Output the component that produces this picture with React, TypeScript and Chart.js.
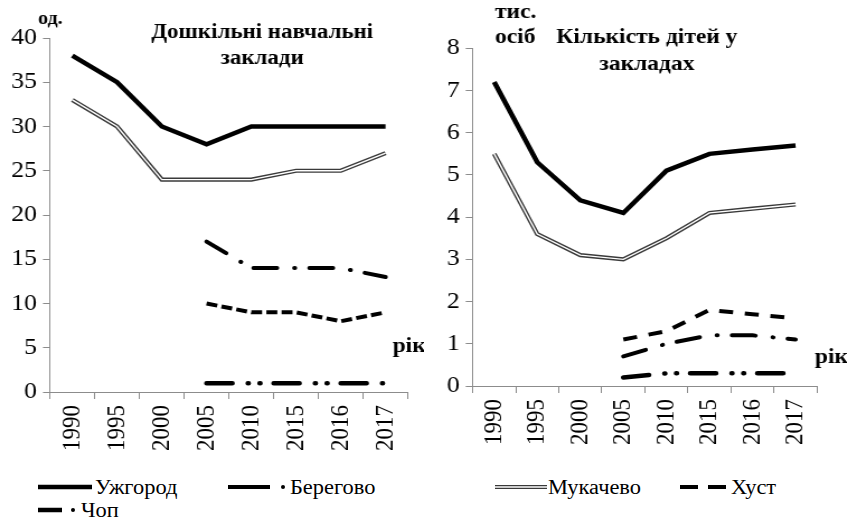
import React, { useEffect, useRef } from "react";
import { Chart, registerables } from "chart.js";

Chart.register(...registerables);

// ---------- data ----------
const years = ["1990", "1995", "2000", "2005", "2010", "2015", "2016", "2017"];

const uzhgorodInst = [38, 35, 30, 28, 30, 30, 30, 30];
const mukachevoInst = [33, 30, 24, 24, 24, 25, 25, 27];
const berehovoInst = [null, null, null, 17, 14, 14, 14, 13];
const khustInst = [null, null, null, 10, 9, 9, 8, 9];
const chopInst = [null, null, null, 1, 1, 1, 1, 1];

const uzhgorodKids = [7.2, 5.3, 4.4, 4.1, 5.1, 5.5, 5.6, 5.7];
const mukachevoKids = [5.5, 3.6, 3.1, 3.0, 3.5, 4.1, 4.2, 4.3];
const berehovoKids = [null, null, null, 0.7, 1.0, 1.2, 1.2, 1.1];
const khustKids = [null, null, null, 1.1, 1.3, 1.8, 1.7, 1.6];
const chopKids = [null, null, null, 0.2, 0.3, 0.3, 0.3, 0.3];

const instAxis = { min: 0, max: 40, step: 5 };
const kidsAxis = { min: 0, max: 8, step: 1 };

const seriesNames = ["Ужгород", "Мукачево", "Берегово", "Хуст", "Чоп"];
const titleInst = ["Дошкільні навчальні", "заклади"];
const titleKids = ["Кількість дітей у", "закладах"];
const unitInst = ["од."];
const unitKids = ["тис.", "осіб"];
const yearLabel = "рік";

// ---------- styling ----------
const SX = 1.12; // horizontal stretch of the reference picture
const H = 470;
const SERIF = "'Liberation Serif', 'Times New Roman', serif";
const AXIS_COLOR = "#8c8c8c";

function makeDatasets(u: any[], m: any[], b: any[], k: any[], c: any[], khustDash: number[]) {
  return [
    { label: seriesNames[0], data: u, borderColor: "#000", borderWidth: 4.5, order: 0 },
    { label: "_inner", data: m, borderColor: "#fff", borderWidth: 1.4, order: 1 },
    { label: seriesNames[1], data: m, borderColor: "#3a3a3a", borderWidth: 4.2, order: 2 },
    {
      label: seriesNames[2], data: b, borderColor: "#000", borderWidth: 4,
      borderDash: [21, 15.5, 0.5, 13], borderCapStyle: "round", order: 3,
    },
    { label: seriesNames[3], data: k, borderColor: "#000", borderWidth: 4, borderDash: khustDash, order: 4 },
    {
      label: seriesNames[4], data: c, borderColor: "#000", borderWidth: 4.5,
      borderDash: [23, 14, 0.5, 10, 0.5, 12], borderCapStyle: "round", order: 5,
    },
  ];
}

type TextItem = { text: string; x: number; y: number; font: string; align: CanvasTextAlign };

function textPlugin(items: TextItem[]) {
  return {
    id: "freeTexts",
    afterDraw(chart: any) {
      const ctx = chart.ctx;
      ctx.save();
      ctx.fillStyle = "#000";
      ctx.textBaseline = "alphabetic";
      for (const t of items) {
        ctx.font = t.font;
        ctx.textAlign = t.align;
        ctx.fillText(t.text, t.x / SX, t.y);
      }
      ctx.restore();
    },
  };
}

function buildChart(
  canvas: HTMLCanvasElement,
  cw: number,
  area: { left: number; right: number; top: number; bottom: number },
  datasets: any[],
  axis: { min: number; max: number; step: number },
  texts: TextItem[]
) {
  return new Chart(canvas, {
    type: "line",
    data: { labels: years, datasets },
    plugins: [textPlugin(texts)],
    options: {
      animation: false,
      responsive: false,
      devicePixelRatio: 1,
      events: [],
      spanGaps: false,
      elements: { point: { radius: 0 }, line: { tension: 0, fill: false } },
      layout: { padding: { left: 0, top: area.top, right: cw - area.right / SX, bottom: 0 } },
      plugins: { legend: { display: false }, title: { display: false }, tooltip: { enabled: false } },
      scales: {
        x: {
          type: "category",
          offset: true,
          grid: { offset: true, drawOnChartArea: false, drawTicks: true, tickLength: 7, color: AXIS_COLOR, lineWidth: 1 },
          border: { display: true, color: AXIS_COLOR, width: 1 },
          ticks: {
            minRotation: 90, maxRotation: 90, autoSkip: false, padding: 6, color: "#000",
            font: { family: SERIF, size: 23 },
          },
          afterFit: (s: any) => { s.height = H - area.bottom; },
        },
        y: {
          min: axis.min, max: axis.max,
          ticks: { stepSize: axis.step, padding: 6 / SX, color: "#000", font: { family: SERIF, size: 23 } },
          grid: { drawOnChartArea: false, drawTicks: true, tickLength: 7 / SX, color: AXIS_COLOR, lineWidth: 1 },
          border: { display: true, color: AXIS_COLOR, width: 1 },
          afterFit: (s: any) => { s.width = area.left / SX; },
        },
      },
    } as any,
  });
}

const CW_L = Math.round(425 / SX);
const CW_R = Math.round(422 / SX);
const LEFT_OFFSET_R = 425;

export default function App() {
  const leftRef = useRef<HTMLCanvasElement>(null);
  const rightRef = useRef<HTMLCanvasElement>(null);

  useEffect(() => {
    const B = `bold 21px ${SERIF}`;
    const BT = `bold 20.5px ${SERIF}`;
    const chL = buildChart(
      leftRef.current!, CW_L,
      { left: 50, right: 410.7, top: 38, bottom: 392 },
      makeDatasets(uzhgorodInst, mukachevoInst, berehovoInst, khustInst, chopInst, [9.8, 3.8]),
      instAxis,
      [
        { text: unitInst[0], x: 38, y: 24, font: `bold 18px ${SERIF}`, align: "left" },
        { text: titleInst[0], x: 262.5, y: 38, font: BT, align: "center" },
        { text: titleInst[1], x: 262.5, y: 64, font: BT, align: "center" },
        { text: yearLabel, x: 393, y: 352, font: B, align: "left" },
      ]
    );
    const chR = buildChart(
      rightRef.current!, CW_R,
      { left: 47.7, right: 392.3, top: 48.3, bottom: 386 },
      makeDatasets(uzhgorodKids, mukachevoKids, berehovoKids, khustKids, chopKids, [12.5, 10.5]),
      kidsAxis,
      [
        { text: unitKids[0], x: 70, y: 18, font: B, align: "left" },
        { text: unitKids[1], x: 70, y: 43, font: B, align: "left" },
        { text: titleKids[0], x: 222, y: 43, font: B, align: "center" },
        { text: titleKids[1], x: 222, y: 70, font: B, align: "center" },
        { text: yearLabel, x: 390, y: 363, font: B, align: "left" },
      ]
    );
    return () => { chL.destroy(); chR.destroy(); };
  }, []);

  const legendText = (text: string, x: number, y: number) => (
    <div
      key={text}
      style={{
        position: "absolute", left: x, top: y, fontFamily: SERIF, fontSize: 20, lineHeight: "20px",
        color: "#000", whiteSpace: "nowrap", transform: "translateY(-50%) scaleX(1.12)", transformOrigin: "left center",
      }}
    >
      {text}
    </div>
  );

  const r1 = 17;
  const r2 = 40;
  return (
    <div style={{ position: "fixed", left: 0, top: 0, width: 847, height: 520, background: "#fff", overflow: "hidden" }}>
      <canvas ref={leftRef} width={CW_L} height={H} style={{ position: "absolute", left: 0, top: 0, width: CW_L * SX, height: H }} />
      <canvas ref={rightRef} width={CW_R} height={H} style={{ position: "absolute", left: LEFT_OFFSET_R, top: 0, width: CW_R * SX, height: H }} />
      <div style={{ position: "absolute", left: 0, top: 470, width: 847, height: 50 }}>
        <svg width={847} height={50} style={{ position: "absolute", left: 0, top: 0 }}>
          <line x1={38} y1={r1} x2={92} y2={r1} stroke="#000" strokeWidth={4.5} />
          <line x1={228} y1={r1} x2={270} y2={r1} stroke="#000" strokeWidth={4} />
          <circle cx={283} cy={r1} r={2} fill="#000" />
          <line x1={495} y1={r1} x2={547} y2={r1} stroke="#3a3a3a" strokeWidth={4.2} />
          <line x1={495} y1={r1} x2={547} y2={r1} stroke="#fff" strokeWidth={1.4} />
          <line x1={680} y1={r1} x2={698} y2={r1} stroke="#000" strokeWidth={4} />
          <line x1={708} y1={r1} x2={726} y2={r1} stroke="#000" strokeWidth={4} />
          <line x1={38} y1={r2} x2={62} y2={r2} stroke="#000" strokeWidth={4.5} />
          <circle cx={73} cy={r2} r={2} fill="#000" />
        </svg>
        {legendText(seriesNames[0], 95, r1)}
        {legendText(seriesNames[2], 290, r1)}
        {legendText(seriesNames[1], 548, r1)}
        {legendText(seriesNames[3], 731, r1)}
        {legendText(seriesNames[4], 81, r2)}
      </div>
    </div>
  );
}
